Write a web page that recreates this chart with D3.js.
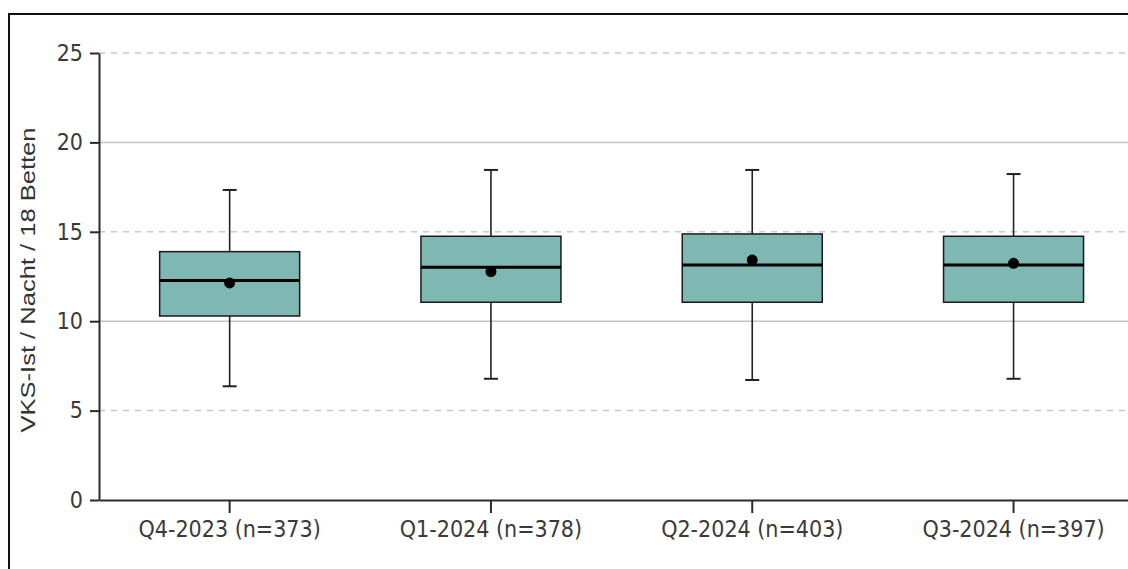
<!DOCTYPE html>
<html>
<head>
<meta charset="utf-8">
<script src="https://cdn.jsdelivr.net/npm/d3@7"></script>
<style>
  body { margin: 0; background: #fff; }
  svg { display: block; }
</style>
</head>
<body>
<script>
var categories = ["Q4-2023 (n=373)", "Q1-2024 (n=378)", "Q2-2024 (n=403)", "Q3-2024 (n=397)"];
var whiskerLow = [6.36, 6.78, 6.71, 6.78];
var q1 = [10.29, 11.06, 11.06, 11.06];
var median = [12.27, 13.02, 13.14, 13.14];
var q3 = [13.89, 14.75, 14.88, 14.75];
var whiskerHigh = [17.34, 18.46, 18.46, 18.23];
var means = [12.14, 12.77, 13.42, 13.24];
var yTicks = [0, 5, 10, 15, 20, 25];

var width = 1128;
var height = 569;

var svg = d3.select("body")
  .append("svg")
  .attr("width", width)
  .attr("height", height);

// outer frame (cut off on the right and bottom)
svg.append("rect")
  .attr("x", 9)
  .attr("y", 14)
  .attr("width", 1200)
  .attr("height", 700)
  .attr("fill", "none")
  .attr("stroke", "#111")
  .attr("stroke-width", 2);

var left = 99;
var bottom = 500;

var x = d3.scaleBand()
  .domain(categories)
  .range([left, left + 4 * 261.3])
  .padding(0);

var y = d3.scaleLinear()
  .domain([0, 25])
  .range([bottom, 53]);

// grid lines
svg.append("g")
  .selectAll("line")
  .data(yTicks.filter(function (d) { return d > 0; }))
  .enter()
  .append("line")
  .attr("x1", left)
  .attr("x2", width)
  .attr("y1", function (d) { return y(d); })
  .attr("y2", function (d) { return y(d); })
  .attr("stroke", function (d) { return d % 10 === 0 ? "#c4c4c4" : "#c8c8c8"; })
  .attr("stroke-width", 1.5)
  .attr("stroke-dasharray", function (d) { return d % 10 === 0 ? null : "6,6"; });

var data = categories.map(function (c, i) {
  return {
    cat: c,
    lo: whiskerLow[i],
    q1: q1[i],
    med: median[i],
    q3: q3[i],
    hi: whiskerHigh[i],
    mean: means[i]
  };
});

var boxW = 140;
var capW = 14;
var cx = function (d) { return x(d.cat) + x.bandwidth() / 2; };

var g = svg.append("g");

// whiskers
g.selectAll(".wl")
  .data(data)
  .enter()
  .append("line")
  .attr("x1", cx)
  .attr("x2", cx)
  .attr("y1", function (d) { return y(d.hi); })
  .attr("y2", function (d) { return y(d.lo); })
  .attr("stroke", "#222")
  .attr("stroke-width", 1.6);

["hi", "lo"].forEach(function (k) {
  g.selectAll(".cap-" + k)
    .data(data)
    .enter()
    .append("line")
    .attr("x1", function (d) { return cx(d) - capW / 2; })
    .attr("x2", function (d) { return cx(d) + capW / 2; })
    .attr("y1", function (d) { return y(d[k]); })
    .attr("y2", function (d) { return y(d[k]); })
    .attr("stroke", "#222")
    .attr("stroke-width", 2);
});

// boxes
g.selectAll("rect")
  .data(data)
  .enter()
  .append("rect")
  .attr("x", function (d) { return cx(d) - boxW / 2; })
  .attr("width", boxW)
  .attr("y", function (d) { return y(d.q3); })
  .attr("height", function (d) { return y(d.q1) - y(d.q3); })
  .attr("fill", "#7fb8b2")
  .attr("stroke", "#1a1a1a")
  .attr("stroke-width", 1.5);

// medians
g.selectAll(".med")
  .data(data)
  .enter()
  .append("line")
  .attr("x1", function (d) { return cx(d) - boxW / 2; })
  .attr("x2", function (d) { return cx(d) + boxW / 2; })
  .attr("y1", function (d) { return y(d.med); })
  .attr("y2", function (d) { return y(d.med); })
  .attr("stroke", "#000")
  .attr("stroke-width", 3);

// means
g.selectAll("circle")
  .data(data)
  .enter()
  .append("circle")
  .attr("cx", cx)
  .attr("cy", function (d) { return y(d.mean); })
  .attr("r", 5.5)
  .attr("fill", "#000");

// axes
var yAxis = svg.append("g")
  .attr("transform", "translate(" + left + ",0)")
  .call(d3.axisLeft(y).tickValues(yTicks).tickSize(9).tickSizeOuter(0).tickPadding(7));

var xAxis = svg.append("g")
  .attr("transform", "translate(0," + bottom + ")")
  .call(d3.axisBottom(x).tickSize(13).tickSizeOuter(0).tickPadding(8));

[yAxis, xAxis].forEach(function (a) {
  a.selectAll("path, line")
    .attr("stroke", "#2b2b2b")
    .attr("stroke-width", 2);
  a.selectAll("text")
    .attr("fill", "#3a3a3a")
    .style("font-family", "'Liberation Sans Narrow', 'DejaVu Sans Condensed', sans-serif")
    .style("font-size", "23px");
});

// y axis title
svg.append("text")
  .attr("transform", "translate(35,280) rotate(-90)")
  .attr("text-anchor", "middle")
  .attr("fill", "#333")
  .attr("textLength", 305)
  .attr("lengthAdjust", "spacingAndGlyphs")
  .style("font-family", "'Liberation Sans', Arial, sans-serif")
  .style("font-size", "20px")
  .text("VKS-Ist / Nacht / 18 Betten");
</script>
</body>
</html>
